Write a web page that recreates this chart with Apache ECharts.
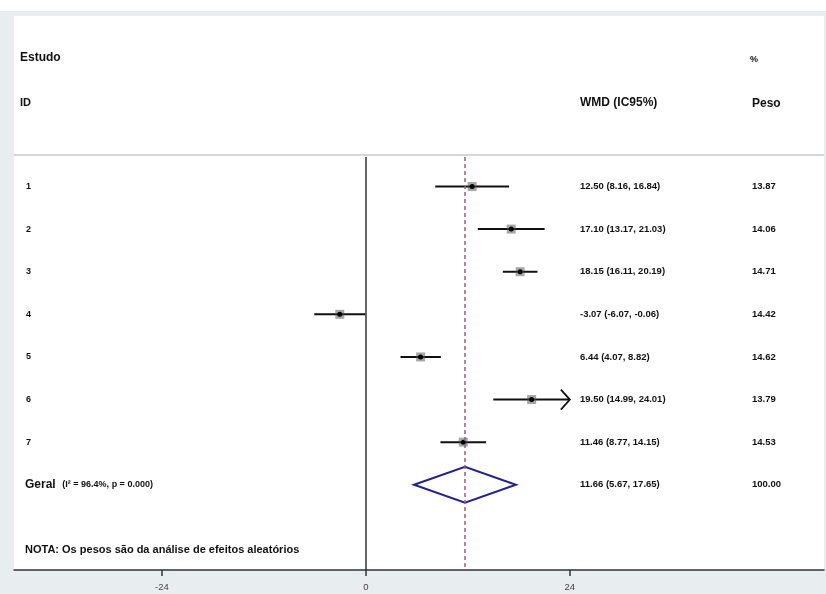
<!DOCTYPE html>
<html lang="pt">
<head>
<meta charset="utf-8">
<script src="https://cdn.jsdelivr.net/npm/echarts@6.0.0/dist/echarts.min.js"></script>
<title>Forest plot</title>
</head>
<body style="margin:0">
<div id="container" style="width:826px;height:594px"></div>
<script>
// dados
var studyIds = ['1', '2', '3', '4', '5', '6', '7'];
var wmd = [12.50, 17.10, 18.15, -3.07, 6.44, 19.50, 11.46];
var ciLow = [8.16, 13.17, 16.11, -6.07, 4.07, 14.99, 8.77];
var ciHigh = [16.84, 21.03, 20.19, -0.06, 8.82, 24.01, 14.15];
var weights = [13.87, 14.06, 14.71, 14.42, 14.62, 13.79, 14.53];
var overall = [11.66, 5.67, 17.65, 100.00]; // wmd, low, high, peso
var xTicks = [-24, 0, 24];
var xLimit = 24; // IC acima disso leva seta

var fontFam = '"Liberation Sans Narrow", "Liberation Sans", Arial, sans-serif';
var colIdX = 26, colCiX = 580, colWX = 752;

function ciText(e, l, h) {
    return e.toFixed(2) + ' (' + l.toFixed(2) + ', ' + h.toFixed(2) + ')';
}
function txt(x, y, s, size, weight) {
    return {
        type: 'text', x: x, y: y,
        style: {text: s, fill: '#111', fontSize: size, fontWeight: weight || 'bold',
            fontFamily: fontFam, verticalAlign: 'middle'}
    };
}

var dom = document.getElementById('container');
var myChart = echarts.init(dom, null, {renderer: 'canvas'});

var option = {
    animation: false,
    backgroundColor: '#e8edf0',
    graphic: [
        {type: 'rect', shape: {x: 0, y: 0, width: 826, height: 11}, style: {fill: '#fff'}},
        txt(20, 58, 'Estudo', 12),
        txt(750, 60, '%', 9),
        txt(20, 103, 'ID', 11),
        txt(580, 103, 'WMD (IC95%)', 12),
        txt(752, 104, 'Peso', 12),
        txt(25, 550, 'NOTA: Os pesos são da análise de efeitos aleatórios', 11)
    ],
    grid: {left: 14, right: 2, top: 16, bottom: 24, show: true, backgroundColor: '#fff', borderWidth: 0},
    xAxis: {
        type: 'value', min: -41.4, max: 53.9,
        axisLine: {onZero: false, lineStyle: {color: '#333', width: 1.5}},
        axisTick: {customValues: xTicks, length: 6, lineStyle: {color: '#333', width: 1.5}},
        axisLabel: {customValues: xTicks, color: '#444', fontSize: 9.5, margin: 12},
        splitLine: {show: false}
    },
    yAxis: {type: 'value', min: -3, max: 10, inverse: true, show: false},
    series: [
        {
            type: 'custom',
            name: 'estudos',
            encode: {x: [1, 2, 3], y: 0},
            data: studyIds.map(function (id, i) {
                return [i + 1, wmd[i], ciLow[i], ciHigh[i], weights[i]];
            }),
            renderItem: function (params, api) {
                var i = params.dataIndex;
                var row = api.value(0);
                var c = api.coord([api.value(1), row]);
                var pl = api.coord([api.value(2), row]);
                var ph = api.coord([Math.min(api.value(3), xLimit), row]);
                var y = c[1];
                var children = [
                    {type: 'line', shape: {x1: pl[0], y1: y, x2: ph[0], y2: y}, style: {stroke: '#111', lineWidth: 2}},
                    {type: 'rect', shape: {x: c[0] - 4.5, y: y - 4.5, width: 9, height: 9}, style: {fill: 'rgba(80,80,80,0.5)'}},
                    {type: 'circle', shape: {cx: c[0], cy: y, r: 2.5}, style: {fill: '#000'}},
                    txt(colIdX, y, studyIds[i], 9),
                    txt(colCiX, y, ciText(api.value(1), api.value(2), api.value(3)), 9.5),
                    txt(colWX, y, api.value(4).toFixed(2), 9.5)
                ];
                if (api.value(3) > xLimit) {
                    children.push({
                        type: 'polyline',
                        shape: {points: [[ph[0] - 9, y - 10], [ph[0], y], [ph[0] - 9, y + 10]]},
                        style: {stroke: '#111', lineWidth: 1.8, fill: null}
                    });
                }
                return {type: 'group', children: children};
            },
            markLine: {
                silent: true, symbol: 'none', label: {show: false},
                data: [
                    {yAxis: 0.26, lineStyle: {color: '#c8c8c8', width: 1.5, type: 'solid'}},
                    [{coord: [0, 0.31], lineStyle: {color: '#333', width: 1.5, type: 'solid'}}, {coord: [0, 10]}],
                    [{coord: [overall[0], 0.31], lineStyle: {color: '#9b5f7d', width: 1.5, type: [4, 3]}}, {coord: [overall[0], 10]}]
                ]
            }
        },
        {
            type: 'custom',
            name: 'geral',
            encode: {x: [1, 2, 3], y: 0},
            data: [[8, overall[0], overall[1], overall[2], overall[3]]],
            renderItem: function (params, api) {
                var row = api.value(0);
                var c = api.coord([api.value(1), row]);
                var pl = api.coord([api.value(2), row]);
                var ph = api.coord([api.value(3), row]);
                var y = c[1];
                return {
                    type: 'group',
                    children: [
                        {
                            type: 'polygon',
                            shape: {points: [[pl[0], y], [c[0], y - 18], [ph[0], y], [c[0], y + 18]]},
                            style: {stroke: '#22228a', lineWidth: 2, fill: 'rgba(255,255,255,0)'}
                        },
                        {
                            type: 'text', x: 25, y: y,
                            style: {
                                text: '{b|Geral}  {s|(I² = 96.4%, p = 0.000)}',
                                verticalAlign: 'middle',
                                rich: {
                                    b: {fontSize: 12, fontWeight: 'bold', fill: '#111', fontFamily: fontFam},
                                    s: {fontSize: 9, fontWeight: 'bold', fill: '#111', fontFamily: fontFam}
                                }
                            }
                        },
                        txt(colCiX, y, ciText(api.value(1), api.value(2), api.value(3)), 9.5),
                        txt(colWX, y, api.value(4).toFixed(2), 9.5)
                    ]
                };
            }
        }
    ]
};

myChart.setOption(option);
window.addEventListener('resize', myChart.resize);
</script>
</body>
</html>
